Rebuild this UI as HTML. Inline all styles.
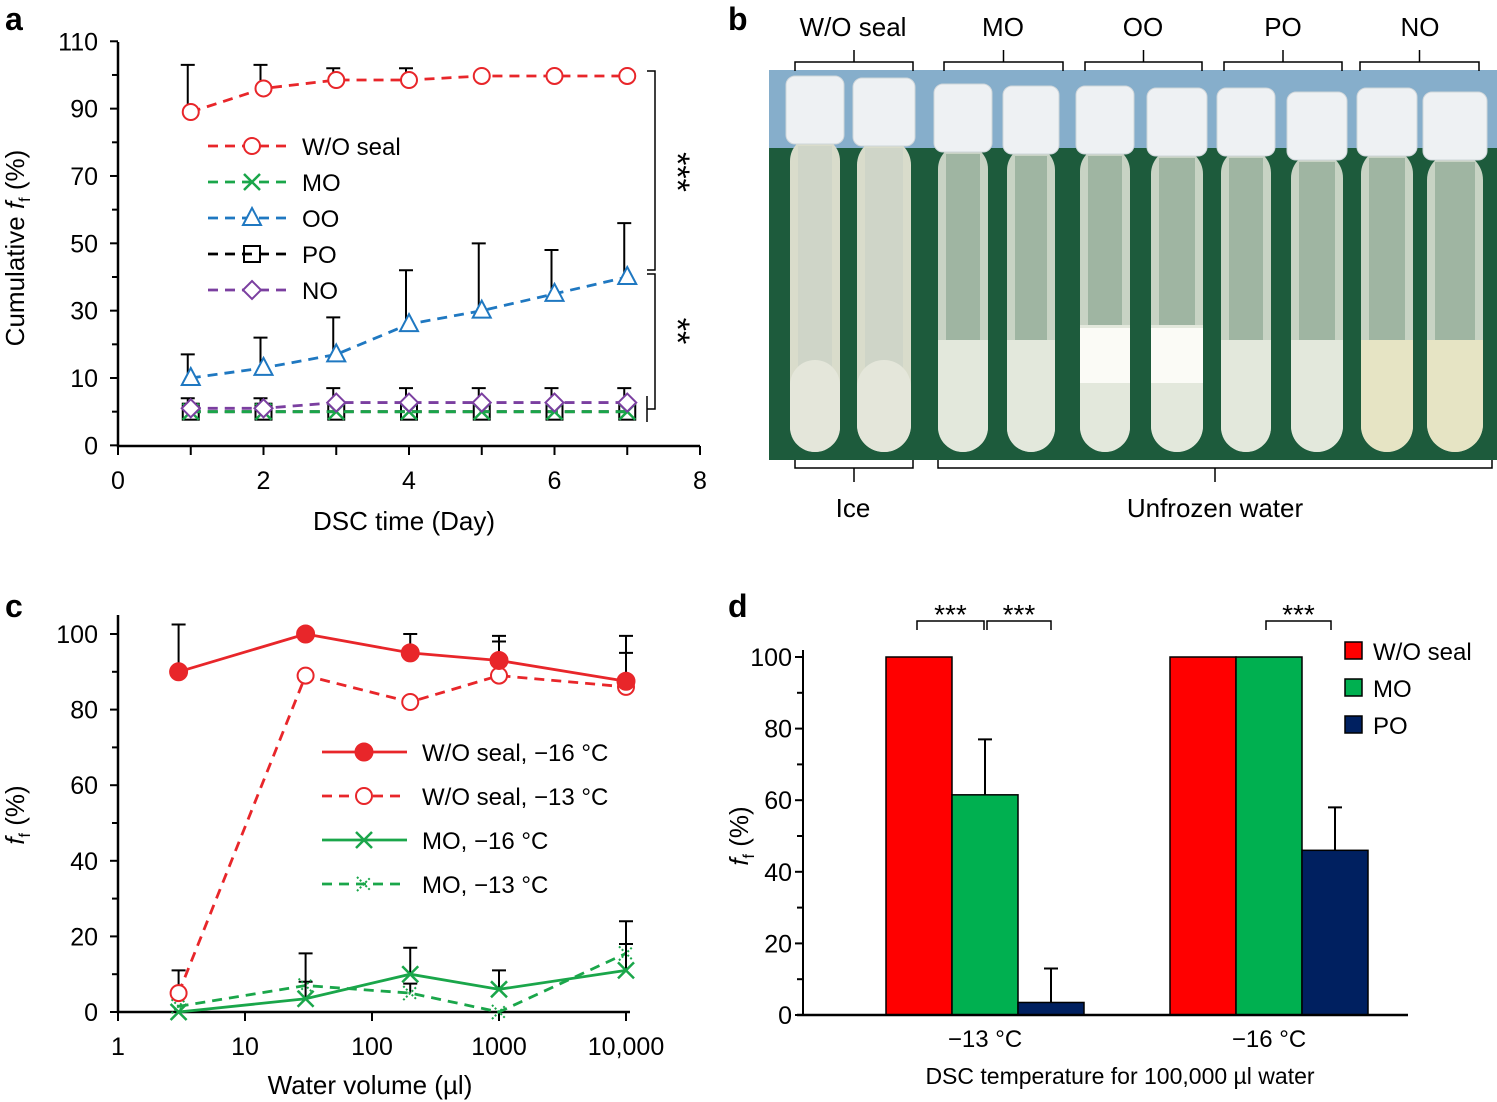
<!DOCTYPE html>
<html><head><meta charset="utf-8"><style>
html,body{margin:0;padding:0;background:#fff}
svg{display:block;font-family:"Liberation Sans",sans-serif}
</style></head><body>
<svg id="fig" width="1497" height="1102" viewBox="0 0 1497 1102" xmlns="http://www.w3.org/2000/svg">
<g id="pa"></g>
<g id="pb"></g>
<g id="pc"></g>
<g id="pd"></g>
</svg>
<script>
// ---------- Panel a data ----------
const aDays = [1,2,3,4,5,6,7];
const aWO = [89,96,98.5,98.5,99.7,99.7,99.7];
const aWOerr = [103,103,102,102,99.7,99.7,99.7];
const aMO = [0,0,0,0,0,0,0];
const aOO = [10,13,17,26,30,35,40];
const aOOerr = [17,22,28,42,50,48,56];
const aPO = [0,0,0,0,0,0,0];
const aNO = [1,1,2.7,2.7,2.7,2.7,2.7];
const aNOerr = [4,4,7,7,7,7,7];
const aYTicks = [-10,10,30,50,70,90,110];
const aYLabels = ["0","10","30","50","70","90","110"];
const aXTicks = [0,2,4,6,8];
// ---------- Panel c data ----------
const cVol = [3,30,200,1000,10000];
const cWO16 = [90,100,95,93,87.5];
const cWO16err = [102.5,100.5,100,99.5,99.5];
const cWO13 = [5,89,82,89,86];
const cWO13err = [11,89,82,98,95];
const cMO16 = [0,3.5,10,6,11];
const cMO16err = [0,15.5,17,11,24];
const cMO13 = [1.5,7,5,0,15.5];
const cMO13err = [1.5,8,7.5,0,18];
const cYTicks = [0,20,40,60,80,100];
const cXTicks = [1,10,100,1000,10000];
const cXLabels = ["1","10","100","1000","10,000"];
// ---------- Panel d data ----------
const dGroups = ["\u221213 \u00b0C","\u221216 \u00b0C"];
const dWO = [100,100];
const dMO = [61.5,100];
const dMOerr = [77,100];
const dPO = [3.5,46];
const dPOerr = [13,58];
const dYTicks = [0,20,40,60,80,100];

const NS="http://www.w3.org/2000/svg";
function el(parent,tag,attrs,text){const e=document.createElementNS(NS,tag);for(const k in attrs)e.setAttribute(k,attrs[k]);if(text!==undefined)e.textContent=text;parent.appendChild(e);return e;}

const RED="#e8262a",GREEN="#1aa64a",BLUE="#1f78c1",PURP="#7b3fa0";

function marker(g,type,x,y,color,name){
  let m;
  if(type==="circle"){m=el(g,"circle",{cx:x,cy:y,r:8,fill:"#fff",stroke:color,"stroke-width":2});}
  else if(type==="dot"){m=el(g,"circle",{cx:x,cy:y,r:9,fill:color,stroke:color,"stroke-width":1});}
  else if(type==="x"){m=el(g,"path",{d:`M${x-8} ${y-8}L${x+8} ${y+8}M${x-8} ${y+8}L${x+8} ${y-8}`,stroke:color,"stroke-width":2.5,fill:"none"});}
  else if(type==="xdot"){m=el(g,"path",{d:`M${x-7} ${y-7}L${x+7} ${y+7}M${x-7} ${y+7}L${x+7} ${y-7}`,stroke:color,"stroke-width":2,"stroke-dasharray":"2,2",fill:"none"});}
  else if(type==="tri"){m=el(g,"path",{d:`M${x} ${y-10}L${x+9} ${y+7}L${x-9} ${y+7}Z`,stroke:color,"stroke-width":2,fill:"#fff"});}
  else if(type==="sq"){m=el(g,"rect",{x:x-8,y:y-8,width:16,height:16,stroke:color,"stroke-width":2,fill:"none"});}
  else if(type==="dia"){m=el(g,"path",{d:`M${x} ${y-9}L${x+9} ${y}L${x} ${y+9}L${x-9} ${y}Z`,stroke:color,"stroke-width":2,fill:"#fff"});}
  
  
  return m;
}
function errbar(g,x,y0,y1,name){
  if(Math.abs(y1-y0)<1)return;
  const e=el(g,"path",{d:`M${x} ${y0}L${x} ${y1}M${x-7} ${y1}L${x+7} ${y1}`,stroke:"#000","stroke-width":2,fill:"none"});
  
  
}

// ================= Panel a =================
(function(){
  const g=document.getElementById("pa");
  const X=d=>118+d*72.75, Y=v=>378-(v-10)*3.367;
  const t=el(g,"text",{x:5,y:30,"font-size":32,"font-weight":"bold"},"a");
  
  const ax=el(g,"path",{d:`M118 42L118 446L700 446`,stroke:"#000","stroke-width":2.5,fill:"none"});
  
  aYTicks.forEach((v,i)=>{
    el(g,"line",{x1:110,x2:118,y1:Y(v),y2:Y(v),stroke:"#000","stroke-width":2});
    if(i<aYTicks.length-1) el(g,"line",{x1:112,x2:118,y1:Y(v+10),y2:Y(v+10),stroke:"#000","stroke-width":2});
    const l=el(g,"text",{x:98,y:Y(v)+9,"font-size":25,"text-anchor":"end"},aYLabels[i]);
    
  });
  for(let d=0;d<=8;d++) el(g,"line",{x1:X(d),x2:X(d),y1:446,y2:455,stroke:"#000","stroke-width":2});
  aXTicks.forEach(d=>{const l=el(g,"text",{x:X(d),y:489,"font-size":25,"text-anchor":"middle"},d);
    });
  const xt=el(g,"text",{x:404,y:530,"font-size":26,"text-anchor":"middle"},"DSC time (Day)");
  
  const yt=el(g,"text",{transform:"translate(24,248) rotate(-90)","font-size":26,"text-anchor":"middle"});
  yt.innerHTML='Cumulative <tspan font-style="italic">f</tspan><tspan font-size="16" dy="6">f</tspan><tspan dy="-6"> (%)</tspan>';
  
  const series=[
    {v:aPO,e:null,c:"#000",m:"sq",n:"po"},
    {v:aMO,e:null,c:GREEN,m:"x",n:"mo"},
    {v:aNO,e:aNOerr,c:PURP,m:"dia",n:"no"},
    {v:aOO,e:aOOerr,c:BLUE,m:"tri",n:"oo"},
    {v:aWO,e:aWOerr,c:RED,m:"circle",n:"wo-seal"}];
  series.forEach(s=>{
    if(s.e) aDays.forEach((d,i)=>errbar(g,X(d)-3,Y(s.v[i]),Y(s.e[i]),'error-bar-'+s.n));
    const p=el(g,"polyline",{points:aDays.map((d,i)=>X(d)+","+Y(s.v[i])).join(" "),stroke:s.c,"stroke-width":2.8,"stroke-dasharray":"10,7",fill:"none"});
    
    aDays.forEach((d,i)=>marker(g,s.m,X(d),Y(s.v[i]),s.c,'point-'+s.n));
  });
  el(g,"path",{d:`M647 71L655 71L655 270L647 270M647 274L655 274L655 409L647 409M647 396L647 422`,stroke:"#000","stroke-width":1.5,fill:"none"});
  const s1=el(g,"text",{transform:"translate(666,172) rotate(90)","font-size":34,"text-anchor":"middle"},"***");
  
  const s2=el(g,"text",{transform:"translate(666,331) rotate(90)","font-size":34,"text-anchor":"middle"},"**");
  
  const leg=[["W/O seal",RED,"circle"],["MO",GREEN,"x"],["OO",BLUE,"tri"],["PO","#000","sq"],["NO",PURP,"dia"]];
  leg.forEach((l,i)=>{
    const y=146+i*36;
    const lg=el(g,"g",{});
    
    el(lg,"line",{x1:208,x2:292,y1:y,y2:y,stroke:l[1],"stroke-width":2.8,"stroke-dasharray":"10,7"});
    marker(lg,l[2],252,y,l[1],'legend-marker');
    el(lg,"text",{x:302,y:y+9,"font-size":24},l[0]);
  });
})();

// ================= Panel b (photo) =================
(function(){
  const g=document.getElementById("pb");
  const t=el(g,"text",{x:728,y:30,"font-size":32,"font-weight":"bold"},"b");
  
  const bg1=el(g,"rect",{x:769,y:70,width:728,height:80,fill:"#86aecb"});
  
  const bg2=el(g,"rect",{x:769,y:148,width:728,height:312,fill:"#1d5b3c"});
  
  const tubes=[[815,58,76,"ice"],[884,62,78,"ice"],[963,58,84,"oil"],[1031,56,86,"oil"],[1105,58,86,"white"],[1177,60,88,"white"],[1246,58,88,"oil"],[1317,60,92,"oil"],[1387,60,88,"yel"],[1455,64,92,"yel"]];
  tubes.forEach((tb,i)=>{
    const [cx,w,top,kind]=tb; const bw=w-8;
    const tg=el(g,"g",{});
    
    el(tg,"rect",{x:cx-bw/2,y:top+60,width:bw,height:452-top-60,rx:bw/2,fill:kind==="ice"?"#d9dccb":"#c8d3c4"});
    el(tg,"rect",{x:cx-bw/2+8,y:top+70,width:bw-16,height:300-top,fill:kind==="ice"?"#cfd5c8":"#9fb5a2"});
    if(kind!=="ice"){
      const ly=kind==="white"?325:340;
      el(tg,"rect",{x:cx-bw/2,y:ly,width:bw,height:452-ly,rx:bw/2,fill:kind==="yel"?"#e6e4c4":"#e3e8dc"});
      el(tg,"rect",{x:cx-bw/2,y:ly,width:bw,height:40,fill:kind==="yel"?"#e6e4c4":"#e3e8dc"});
      if(kind==="white") el(tg,"rect",{x:cx-bw/2,y:328,width:bw,height:55,fill:"#fbfbf6"});
    } else {
      el(tg,"rect",{x:cx-bw/2,y:360,width:bw,height:92,rx:bw/2,fill:"#e4e6da"});
    }
    el(tg,"rect",{x:cx-w/2,y:top,width:w,height:68,rx:9,fill:"#eef1f3",stroke:"#cfd6da","stroke-width":1});
  });
  const labels=[["W/O seal",853,795,913],["MO",1003,944,1063],["OO",1143,1085,1202],["PO",1283,1224,1342],["NO",1420,1360,1479]];
  labels.forEach(l=>{
    const tx=el(g,"text",{x:l[1],y:36,"font-size":26,"text-anchor":"middle"},l[0]);
    
    const mid=(l[2]+l[3])/2;
    el(g,"path",{d:`M${l[2]} 71L${l[2]} 62L${l[3]} 62L${l[3]} 71M${mid} 62L${mid} 50`,stroke:"#000","stroke-width":1.5,fill:"none"});
  });
  el(g,"path",{d:`M795 460L795 468L913 468L913 460M854 468L854 482M938 460L938 468L1492 468L1492 460M1215 468L1215 482`,stroke:"#000","stroke-width":1.5,fill:"none"});
  const i1=el(g,"text",{x:853,y:517,"font-size":26,"text-anchor":"middle"},"Ice");
  
  const i2=el(g,"text",{x:1215,y:517,"font-size":26,"text-anchor":"middle"},"Unfrozen water");
  
})();

// ================= Panel c =================
(function(){
  const g=document.getElementById("pc");
  const X=v=>118+Math.log10(v)*127, Y=v=>1012-v*3.78;
  const t=el(g,"text",{x:5,y:617,"font-size":32,"font-weight":"bold"},"c");
  
  const ax=el(g,"path",{d:`M118 615L118 1012L630 1012`,stroke:"#000","stroke-width":2.5,fill:"none"});
  
  for(let v=0;v<=100;v+=10) el(g,"line",{x1:v%20===0?110:112,x2:118,y1:Y(v),y2:Y(v),stroke:"#000","stroke-width":2});
  cYTicks.forEach(v=>{const l=el(g,"text",{x:98,y:Y(v)+9,"font-size":25,"text-anchor":"end"},v);
    });
  cXTicks.forEach((v,i)=>{
    el(g,"line",{x1:X(v),x2:X(v),y1:1012,y2:1021,stroke:"#000","stroke-width":2});
    const l=el(g,"text",{x:X(v),y:1055,"font-size":25,"text-anchor":"middle"},cXLabels[i]);
    
  });
  const xt=el(g,"text",{x:370,y:1094,"font-size":26,"text-anchor":"middle"},"Water volume (\u00b5l)");
  
  const yt=el(g,"text",{transform:"translate(24,815) rotate(-90)","font-size":26,"text-anchor":"middle"});
  yt.innerHTML='<tspan font-style="italic">f</tspan><tspan font-size="16" dy="6">f</tspan><tspan dy="-6"> (%)</tspan>';
  
  const series=[
    {v:cMO13,e:cMO13err,c:GREEN,m:"xdot",d:"10,7",n:"mo-13"},
    {v:cMO16,e:cMO16err,c:GREEN,m:"x",d:null,n:"mo-16"},
    {v:cWO13,e:cWO13err,c:RED,m:"circle",d:"10,7",n:"wo-seal-13"},
    {v:cWO16,e:cWO16err,c:RED,m:"dot",d:null,n:"wo-seal-16"}];
  series.forEach(s=>{
    cVol.forEach((x,i)=>errbar(g,X(x),Y(s.v[i]),Y(s.e[i]),'error-bar-'+s.n));
    const a={points:cVol.map((x,i)=>X(x)+","+Y(s.v[i])).join(" "),stroke:s.c,"stroke-width":2.8,fill:"none"};
    if(s.d)a["stroke-dasharray"]=s.d;
    const p=el(g,"polyline",a);
    
    cVol.forEach((x,i)=>marker(g,s.m,X(x),Y(s.v[i]),s.c,'point-'+s.n));
  });
  const leg=[["W/O seal, \u221216 \u00b0C",RED,"dot",null],["W/O seal, \u221213 \u00b0C",RED,"circle","10,7"],["MO, \u221216 \u00b0C",GREEN,"x",null],["MO, \u221213 \u00b0C",GREEN,"xdot","10,7"]];
  leg.forEach((l,i)=>{
    const y=752+i*44;
    const lg=el(g,"g",{});
    
    const a={x1:322,x2:407,y1:y,y2:y,stroke:l[1],"stroke-width":2.8};
    if(l[3])a["stroke-dasharray"]=l[3];
    el(lg,"line",a);
    marker(lg,l[2],364,y,l[1],'legend-marker');
    el(lg,"text",{x:422,y:y+9,"font-size":24},l[0]);
  });
})();

// ================= Panel d =================
(function(){
  const g=document.getElementById("pd");
  const Y=v=>1015-v*3.58;
  const gx=[886,1170], bw=66;
  const t=el(g,"text",{x:728,y:617,"font-size":32,"font-weight":"bold"},"d");
  
  el(g,"line",{x1:803,x2:803,y1:650,y2:1015,stroke:"#000","stroke-width":2});
  for(let v=0;v<=100;v+=10) el(g,"line",{x1:v%20===0?795:797,x2:803,y1:Y(v),y2:Y(v),stroke:"#000","stroke-width":2});
  dYTicks.forEach(v=>{const l=el(g,"text",{x:792,y:Y(v)+9,"font-size":25,"text-anchor":"end"},v);
    });
  const yt=el(g,"text",{transform:"translate(748,836) rotate(-90)","font-size":26,"text-anchor":"middle"});
  yt.innerHTML='<tspan font-style="italic">f</tspan><tspan font-size="16" dy="6">f</tspan><tspan dy="-6"> (%)</tspan>';
  
  const sets=[[dWO,null,"#ff0000","wo-seal"],[dMO,dMOerr,"#00b050","mo"],[dPO,dPOerr,"#002060","po"]];
  dGroups.forEach((lab,gi)=>{
    sets.forEach((s,si)=>{
      const x=gx[gi]+si*bw;
      if(s[1]) errbar(g,x+bw/2,Y(s[0][gi]),Y(s[1][gi]),'error-bar-'+s[3]);
      const r=el(g,"rect",{x:x,y:Y(s[0][gi]),width:bw,height:s[0][gi]*3.58,fill:s[2],stroke:"#000","stroke-width":1.5});
      
    });
    const l=el(g,"text",{x:gx[gi]+bw*1.5,y:1047,"font-size":24,"text-anchor":"middle"},lab);
    
  });
  el(g,"line",{x1:797,x2:1408,y1:1015,y2:1015,stroke:"#000","stroke-width":2.5});
  const xt=el(g,"text",{x:1120,y:1084,"font-size":23,"text-anchor":"middle"},"DSC temperature for 100,000 \u00b5l water");
  
  [[917,984],[987,1051],[1266,1331]].forEach(b=>{
    el(g,"path",{d:`M${b[0]} 630L${b[0]} 621L${b[1]} 621L${b[1]} 630`,stroke:"#000","stroke-width":1.5,fill:"none"});
    const s=el(g,"text",{x:(b[0]+b[1])/2,y:624,"font-size":28,"text-anchor":"middle"},"***");
    
  });
  [["W/O seal","#ff0000"],["MO","#00b050"],["PO","#002060"]].forEach((l,i)=>{
    const y=651+i*37;
    const lg=el(g,"g",{});
    
    el(lg,"rect",{x:1345,y:y-9,width:17,height:17,fill:l[1],stroke:"#000","stroke-width":1.5});
    el(lg,"text",{x:1373,y:y+9,"font-size":24},l[0]);
  });
})();
</script>
</body></html>
